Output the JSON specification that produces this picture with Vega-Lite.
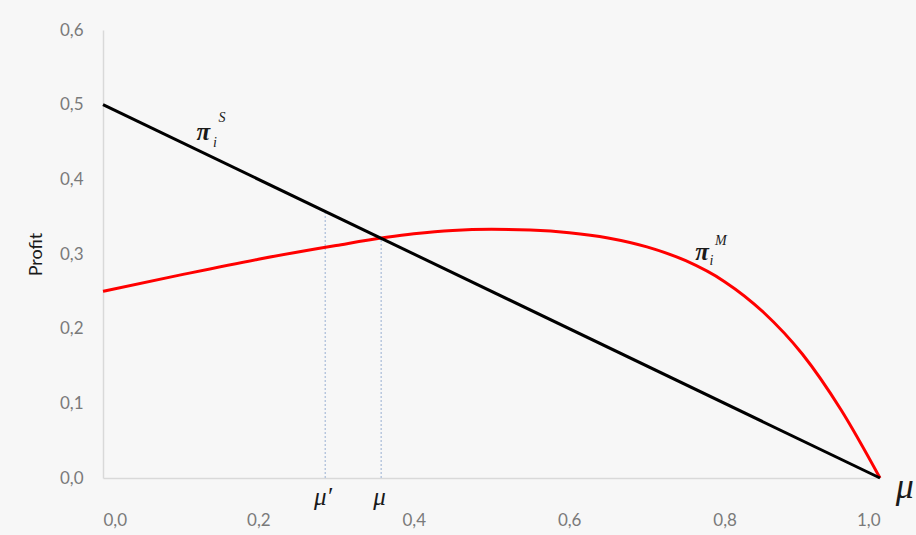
{
  "$schema": "https://vega.github.io/schema/vega-lite/v6.json",
  "width": 777,
  "height": 448,
  "autosize": {"type": "none"},
  "padding": {"left": 103, "top": 30, "right": 36, "bottom": 57},
  "background": "#f7f7f7",
  "config": {
    "view": {"stroke": null},
    "font": "Lato",
    "axis": {"grid": false, "ticks": false, "domainColor": "#d9d9d9", "domainWidth": 1.5, "labelColor": "#7a7a7a", "labelFont": "Lato", "labelFontSize": 17}
  },
  "datasets": {
    "curve": [
      {"mu": 0.0, "profit": 0.250},
      {"mu": 0.1, "profit": 0.272},
      {"mu": 0.2, "profit": 0.293},
      {"mu": 0.3, "profit": 0.3115},
      {"mu": 0.4, "profit": 0.327},
      {"mu": 0.45, "profit": 0.3315},
      {"mu": 0.5, "profit": 0.333},
      {"mu": 0.55, "profit": 0.332},
      {"mu": 0.6, "profit": 0.3285},
      {"mu": 0.65, "profit": 0.3215},
      {"mu": 0.7, "profit": 0.3095},
      {"mu": 0.75, "profit": 0.291},
      {"mu": 0.8, "profit": 0.263},
      {"mu": 0.85, "profit": 0.222},
      {"mu": 0.9, "profit": 0.166},
      {"mu": 0.95, "profit": 0.091},
      {"mu": 1.0, "profit": 0.0}
    ],
    "straight": [
      {"mu": 0.0, "profit": 0.5},
      {"mu": 1.0, "profit": 0.0}
    ],
    "guides": [
      {"mu": 0.286, "lo": 0, "hi": 0.357},
      {"mu": 0.358, "lo": 0, "hi": 0.321}
    ],
    "pi": [
      {"mu": 0.129, "profit": 0.463, "t": "π"},
      {"mu": 0.771, "profit": 0.303, "t": "π"}
    ],
    "scripts": [
      {"mu": 0.144, "profit": 0.449, "t": "i"},
      {"mu": 0.153, "profit": 0.482, "t": "S"},
      {"mu": 0.783, "profit": 0.290, "t": "i"},
      {"mu": 0.795, "profit": 0.318, "t": "M"}
    ],
    "axislabels": [
      {"mu": 0.283, "profit": -0.026, "t": "μ′"},
      {"mu": 0.356, "profit": -0.026, "t": "μ"}
    ],
    "endlabel": [
      {"mu": 1.032, "profit": -0.012, "t": "μ"}
    ]
  },
  "layer": [
    {
      "data": {"name": "guides"},
      "mark": {"type": "rule", "color": "#a8bcd8", "strokeDash": [2, 2], "strokeWidth": 1.2},
      "encoding": {
        "x": {"field": "mu", "type": "quantitative", "scale": {"domain": [0, 1]},
          "axis": {"values": [0, 0.2, 0.4, 0.6, 0.8, 1.0], "labelPadding": 34, "title": null,
            "labelExpr": "replace(format(datum.value, '.1f'), '.', ',')"}},
        "y": {"field": "lo", "type": "quantitative", "scale": {"domain": [0, 0.6]},
          "axis": {"values": [0, 0.1, 0.2, 0.3, 0.4, 0.5, 0.6], "labelPadding": 20, "title": "Profit",
            "titleFont": "Lato", "titleFontSize": 18, "titleFontWeight": "normal", "titleColor": "#1a1a1a", "titlePadding": 14,
            "labelExpr": "replace(format(datum.value, '.1f'), '.', ',')"}},
        "y2": {"field": "hi"}
      }
    },
    {
      "data": {"name": "curve"},
      "mark": {"type": "line", "color": "#ff0000", "strokeWidth": 3, "interpolate": "monotone"},
      "encoding": {
        "x": {"field": "mu", "type": "quantitative"},
        "y": {"field": "profit", "type": "quantitative"}
      }
    },
    {
      "data": {"name": "straight"},
      "mark": {"type": "line", "color": "#000000", "strokeWidth": 3},
      "encoding": {
        "x": {"field": "mu", "type": "quantitative"},
        "y": {"field": "profit", "type": "quantitative"}
      }
    },
    {
      "data": {"name": "pi"},
      "mark": {"type": "text", "font": "Liberation Serif", "fontStyle": "italic", "fontWeight": "bold", "fontSize": 25, "color": "#1a1a1a", "align": "center", "baseline": "middle"},
      "encoding": {
        "x": {"field": "mu", "type": "quantitative"},
        "y": {"field": "profit", "type": "quantitative"},
        "text": {"field": "t"}
      }
    },
    {
      "data": {"name": "scripts"},
      "mark": {"type": "text", "font": "Liberation Serif", "fontStyle": "italic", "fontSize": 14, "color": "#1a1a1a", "align": "center", "baseline": "middle"},
      "encoding": {
        "x": {"field": "mu", "type": "quantitative"},
        "y": {"field": "profit", "type": "quantitative"},
        "text": {"field": "t"}
      }
    },
    {
      "data": {"name": "axislabels"},
      "mark": {"type": "text", "font": "Liberation Serif", "fontStyle": "italic", "fontSize": 25, "color": "#1a1a1a", "align": "center", "baseline": "middle"},
      "encoding": {
        "x": {"field": "mu", "type": "quantitative"},
        "y": {"field": "profit", "type": "quantitative"},
        "text": {"field": "t"}
      }
    },
    {
      "data": {"name": "endlabel"},
      "mark": {"type": "text", "font": "Liberation Serif", "fontStyle": "italic", "fontSize": 36, "color": "#1a1a1a", "align": "center", "baseline": "middle"},
      "encoding": {
        "x": {"field": "mu", "type": "quantitative"},
        "y": {"field": "profit", "type": "quantitative"},
        "text": {"field": "t"}
      }
    }
  ]
}
